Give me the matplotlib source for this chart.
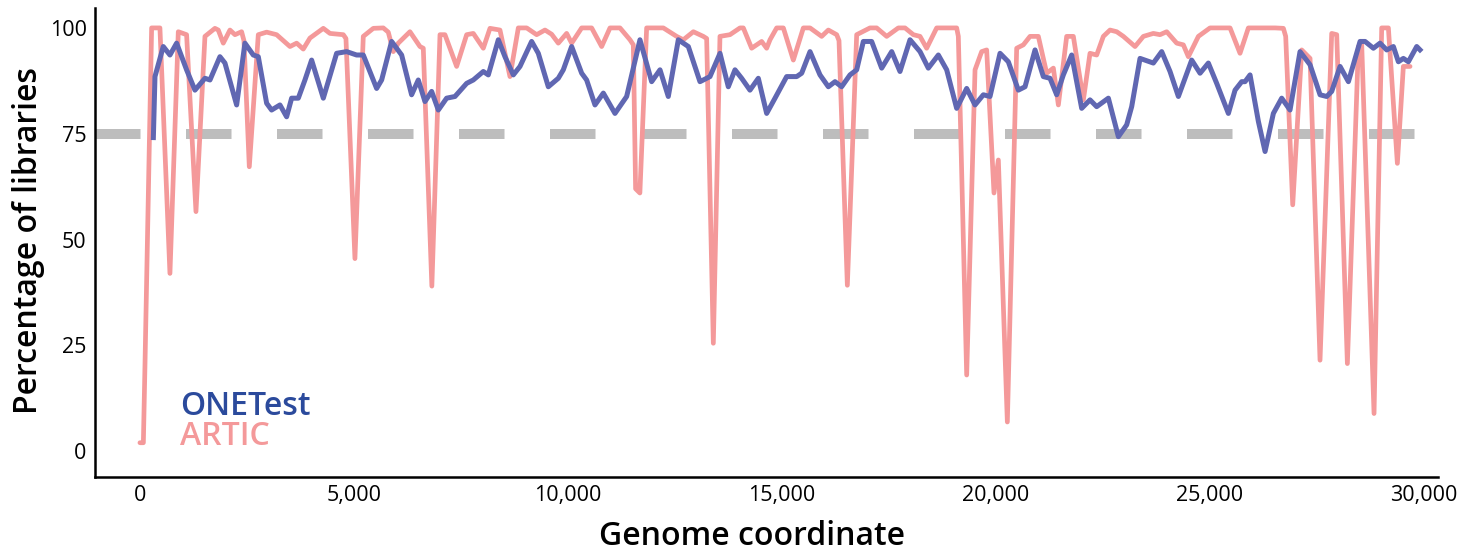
import matplotlib
matplotlib.use("Agg")
import matplotlib.pyplot as plt

# ---- data ----
artic_pos = [0, 80, 117, 195, 273, 467, 701, 896, 1090, 1309, 1519, 1752, 1830, 1947, 2103,
             2220, 2375, 2430, 2555, 2765, 2960, 3193, 3505, 3661, 3816, 3972, 4284, 4440,
             4751, 4813, 5023, 5218, 5452, 5685, 5802, 5919, 6036, 6308, 6542, 6620, 6820,
             7010, 7126, 7399, 7633, 7788, 8022, 8178, 8411, 8645, 8840, 9035, 9268, 9463,
             9619, 9774, 9969, 10086, 10320, 10553, 10787, 10982, 11215, 11449, 11527, 11580,
             11680, 11838, 12228, 12539, 12695, 12929, 13162, 13240, 13396, 13551, 13785,
             14019, 14097, 14291, 14525, 14642, 14720, 14876, 15032, 15265, 15499, 15655,
             15927, 16083, 16278, 16332, 16527, 16745, 17056, 17212, 17446, 17718, 17874,
             18069, 18225, 18380, 18614, 19081, 19120, 19315, 19510, 19665, 19782, 19953,
             20055, 20265, 20483, 20639, 20795, 20989, 21184, 21340, 21457, 21651, 21807,
             22041, 22196, 22352, 22508, 22664, 22820, 22976, 23248, 23443, 23676, 23832,
             23988, 24222, 24377, 24494, 24728, 25000, 25468, 25701, 25896, 26519, 26714,
             26768, 26932, 27142, 27337, 27570, 27843, 27960, 28209, 28466, 28544, 28832,
             29011, 29167, 29377, 29517, 29673]
artic_pct = [2, 2, 20, 60, 100, 100, 42, 99.1, 98.4, 56.6, 98, 99.9, 99.5, 96.4, 99.5,
             98.4, 99.1, 97, 67.2, 98.4, 99, 98.4, 95.6, 96.4, 95, 97.6, 99.9, 98.7,
             98.4, 97.5, 45.5, 98, 99.9, 100, 99, 94.4, 96.4, 99.1, 95.6, 95.2, 39,
             98.4, 98.4, 90.9, 98.4, 98.7, 95.2, 99.9, 99.5, 88.5, 100, 100, 98.4, 99.5,
             98.5, 96.4, 98.7, 96.4, 100, 100, 95.6, 100, 100, 97.2, 96, 62,
             61, 100, 100, 98, 97.2, 99.1, 98, 97.5, 25.5, 98, 98.4,
             100, 100, 95.2, 96.8, 95.2, 97.2, 100, 100, 92.4, 100, 100,
             98, 99.5, 98.4, 97, 39.2, 98.4, 100, 100, 98, 100, 100,
             98.4, 98, 95.2, 100, 100, 98, 18, 90.1, 94.4, 94.8, 61,
             68.8, 6.9, 95.2, 96, 98, 98, 89.3, 90.5, 81.8, 98, 98,
             83, 94, 93.6, 98, 99.5, 99.1, 98, 95.6, 98, 98.7, 98.4,
             99.1, 96.4, 96, 93.2, 98, 100, 100, 94, 100, 100, 99.9,
             98, 58.2, 94.8, 92.8, 21.5, 98.7, 98.4, 20.7, 95.6, 96, 8.9,
             100, 100, 68, 90.9, 90.9]

onetest_pos = [312, 351, 545, 701, 857, 1090, 1285, 1519, 1636, 1869, 1986, 2259, 2453, 2648,
               2765, 2960, 3076, 3271, 3427, 3544, 3700, 3855, 4011, 4284, 4595, 4829, 5062,
               5218, 5530, 5647, 5880, 6114, 6347, 6503, 6659, 6815, 6971, 7165, 7360, 7633,
               7788, 8022, 8139, 8373, 8528, 8723, 8879, 9151, 9307, 9541, 9774, 9891, 10086,
               10320, 10436, 10631, 10826, 11098, 11371, 11682, 11955, 12150, 12344, 12578,
               12812, 13084, 13318, 13552, 13746, 13902, 14058, 14252, 14447, 14642, 14837,
               15109, 15343, 15460, 15655, 15888, 16083, 16239, 16394, 16589, 16745, 16901,
               17095, 17329, 17563, 17757, 17991, 18225, 18419, 18653, 18848, 19081, 19315,
               19510, 19704, 19860, 20094, 20288, 20522, 20678, 20912, 21106, 21262, 21418,
               21573, 21768, 22002, 22196, 22352, 22625, 22859, 23053, 23170, 23365, 23676,
               23871, 24066, 24261, 24572, 24767, 24961, 25156, 25429, 25585, 25740, 25818,
               25935, 26130, 26286, 26480, 26675, 26869, 27103, 27337, 27571, 27726, 27843,
               28038, 28233, 28505, 28622, 28817, 28972, 29128, 29284, 29401, 29517, 29634,
               29829, 29946]
onetest_pct = [73.5, 88.5, 95.6, 93.6, 96.4, 90.1, 85.3, 88.1, 87.7, 93.2, 91.7, 81.8, 96.4, 93.6,
               93.2, 82.2, 80.6, 81.8, 79.0, 83.4, 83.4, 87.7, 92.4, 83.4, 94.0, 94.4, 93.6,
               93.6, 85.7, 87.7, 96.8, 93.6, 84.2, 87.7, 82.6, 85.0, 80.6, 83.4, 83.8, 86.9,
               87.7, 89.7, 88.9, 97.2, 93.2, 88.9, 90.9, 96.8, 94.0, 86.1, 88.1, 90.1, 95.6,
               89.3, 87.7, 81.8, 84.6, 79.8, 83.8, 97.2, 87.3, 90.1, 83.8, 97.2,
               95.6, 87.3, 88.5, 94.0, 86.1, 90.1, 88.1, 85.3, 88.1, 79.8, 83.4,
               88.5, 88.5, 89.3, 94.4, 88.9, 86.1, 87.3, 86.1, 88.9, 90.1, 96.8,
               96.8, 90.5, 94.4, 89.7, 97.2, 94.4, 90.5, 93.6, 90.1, 81.0, 85.7,
               81.8, 84.2, 83.8, 94.0, 92.0, 85.3, 86.1, 94.8, 88.5, 88.1, 84.2,
               88.9, 93.6, 81.0, 83.0, 81.4, 83.4, 74.3, 77.1, 81.4, 92.8, 91.7,
               94.4, 89.7, 83.8, 92.4, 89.3, 91.7, 86.9, 79.8, 85.3, 87.3, 87.3,
               88.9, 77.9, 70.8, 79.8, 83.4, 80.6, 94.4, 91.3, 84.2, 83.8, 85.0,
               90.9, 87.3, 96.8, 96.8, 95.2, 96.4, 94.8, 95.6, 92.0, 92.8, 92.0,
               95.6, 94.4]

threshold = 75
x_ticks = [0, 5000, 10000, 15000, 20000, 25000, 30000]
x_tick_labels = ["0", "5,000", "10,000", "15,000", "20,000", "25,000", "30,000"]
y_ticks = [0, 25, 50, 75, 100]
series_names = ["ONETest", "ARTIC"]

# ---- style ----
plt.rcParams['font.family'] = ['Open Sans', 'DejaVu Sans']
pink = "#F4999A"
blue = "#6067B2"
legend_blue = "#2B4A9C"

fig = plt.figure(figsize=(14.79, 5.53), dpi=100)
ax = fig.add_axes([0.0642, 0.1374, 0.9723 - 0.0642, 0.9855 - 0.1374])

ax.axhline(threshold, color="#BDBDBD", lw=7.2, ls=(0, (4.55, 4.55)),
           dash_capstyle="butt", zorder=1)
ax.plot(artic_pos, artic_pct, color=pink, lw=3.4, solid_joinstyle="round",
        solid_capstyle="round", zorder=2)
ax.plot(onetest_pos, onetest_pct, color=blue, lw=3.6, solid_joinstyle="round",
        solid_capstyle="butt", zorder=3)

ax.set_xlim(-1051, 30327)
ax.set_ylim(-6.1, 104.7)
ax.set_xticks(x_ticks)
ax.set_xticklabels(x_tick_labels)
ax.set_yticks(y_ticks)
ax.tick_params(length=0, labelsize=15.5, colors="black")
ax.tick_params(axis="x", pad=6)
ax.tick_params(axis="y", pad=6)

for s in ["top", "right"]:
    ax.spines[s].set_visible(False)
for s in ["left", "bottom"]:
    ax.spines[s].set_linewidth(1.8)
    ax.spines[s].set_color("black")

fig.text(0.5085, 0.029, "Genome coordinate", fontsize=23, fontweight="semibold",
         ha="center", va="center")
fig.text(0.019, 0.566, "Percentage of libraries", fontsize=23, fontweight="semibold",
         rotation=90, ha="center", va="center")

ax.text(0.0633, 0.132, series_names[0], transform=ax.transAxes, color=legend_blue,
        fontsize=23, fontweight="semibold", va="baseline", ha="left")
ax.text(0.0633, 0.068, series_names[1], transform=ax.transAxes, color=pink,
        fontsize=23, fontweight="semibold", va="baseline", ha="left")

fig.savefig("out.png", dpi=100)
